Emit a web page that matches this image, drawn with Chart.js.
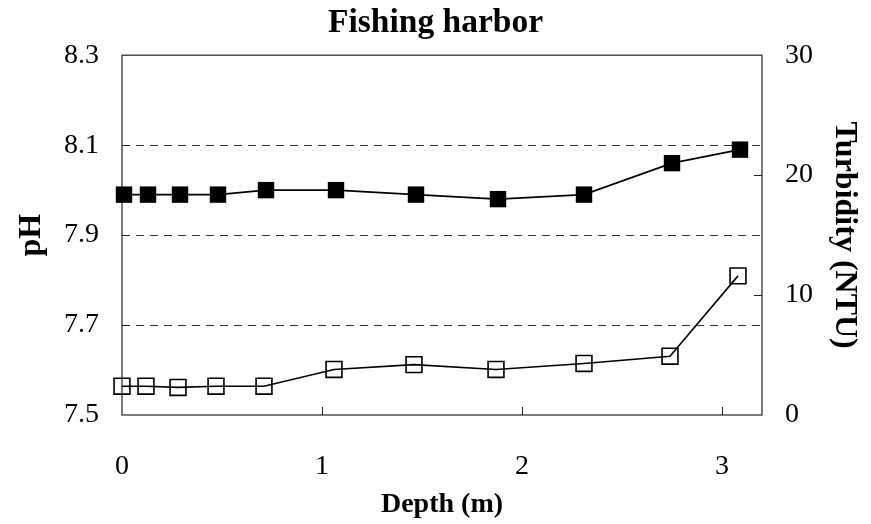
<!DOCTYPE html>
<html>
<head>
<meta charset="utf-8">
<script src="https://cdn.jsdelivr.net/npm/chart.js@4/dist/chart.umd.min.js"></script>
<style>
  html, body { margin: 0; padding: 0; background: #ffffff; }
  #wrap { width: 871px; height: 524px; }
</style>
</head>
<body>
<div id="wrap"><canvas id="c" width="871" height="524"></canvas></div>
<script>
// Depth profile at the fishing harbor: pH (filled squares, left axis)
// and turbidity (open squares, right axis).
const phDepth    = [0.01, 0.13, 0.29, 0.48, 0.72, 1.07, 1.47, 1.88, 2.31, 2.75, 3.09];
const phValues   = [7.99, 7.99, 7.99, 7.99, 8.00, 8.00, 7.99, 7.98, 7.99, 8.06, 8.09];
const turbDepth  = [0, 0.12, 0.28, 0.47, 0.71, 1.06, 1.46, 1.87, 2.31, 2.74, 3.08];
const turbValues = [2.4, 2.4, 2.3, 2.4, 2.4, 3.8, 4.2, 3.8, 4.3, 4.9, 11.6];

const depthTicks = [0, 1, 2, 3];
const phTicks    = [7.5, 7.7, 7.9, 8.1, 8.3];
const turbTicks  = [0, 10, 20, 30];

const SERIF = "'Liberation Serif', 'Times New Roman', serif";

// Box around the plot area plus short inward tick marks on each axis.
const frameAndTicks = {
  id: 'frameAndTicks',
  beforeDatasetsDraw(chart) {
    const { ctx, chartArea: a, scales } = chart;
    ctx.save();
    ctx.setLineDash([]);
    ctx.strokeStyle = '#333333';
    ctx.lineWidth = 1.3;
    ctx.strokeRect(a.left, a.top, a.right - a.left, a.bottom - a.top);

    ctx.lineWidth = 1;
    ctx.strokeStyle = '#222222';
    const len = 8;
    ctx.beginPath();
    scales.x.ticks.forEach(t => {
      const px = Math.round(scales.x.getPixelForValue(t.value)) + 0.5;
      if (px > a.left + 2 && px < a.right - 2) {
        ctx.moveTo(px, a.bottom);
        ctx.lineTo(px, a.bottom - len);
      }
    });
    scales.y.ticks.forEach(t => {
      const py = Math.round(scales.y.getPixelForValue(t.value)) + 0.5;
      if (py > a.top + 2 && py < a.bottom - 2) {
        ctx.moveTo(a.left, py);
        ctx.lineTo(a.left + len, py);
      }
    });
    scales.y1.ticks.forEach(t => {
      const py = Math.round(scales.y1.getPixelForValue(t.value)) + 0.5;
      if (py > a.top + 2 && py < a.bottom - 2) {
        ctx.moveTo(a.right, py);
        ctx.lineTo(a.right - len, py);
      }
    });
    ctx.stroke();
    ctx.restore();
  }
};

new Chart(document.getElementById('c'), {
  type: 'line',
  data: {
    datasets: [
      {
        label: 'pH',
        data: phDepth.map((d, i) => ({ x: d, y: phValues[i] })),
        yAxisID: 'y',
        borderColor: '#000000',
        borderWidth: 1.6,
        tension: 0,
        pointStyle: 'rect',
        pointRadius: 11.6,
        pointBackgroundColor: '#000000',
        pointBorderColor: '#000000',
        pointBorderWidth: 0,
        clip: false
      },
      {
        label: 'Turbidity',
        data: turbDepth.map((d, i) => ({ x: d, y: turbValues[i] })),
        yAxisID: 'y1',
        borderColor: '#000000',
        borderWidth: 1.6,
        tension: 0,
        pointStyle: 'rect',
        pointRadius: 11.2,
        pointBackgroundColor: 'rgba(0,0,0,0)',
        pointBorderColor: '#000000',
        pointBorderWidth: 1.6,
        clip: false
      }
    ]
  },
  options: {
    responsive: false,
    animation: false,
    devicePixelRatio: 1,
    events: [],
    layout: { padding: 0 },
    plugins: {
      legend: { display: false },
      tooltip: { enabled: false },
      title: {
        display: true,
        text: 'Fishing harbor',
        color: '#000000',
        font: { family: SERIF, size: 33.5, weight: 'bold', lineHeight: 1.2 },
        padding: { top: 3, bottom: 12 }
      }
    },
    scales: {
      x: {
        type: 'linear',
        position: 'bottom',
        min: 0,
        max: 3.2,
        afterBuildTicks(s) { s.ticks = depthTicks.map(v => ({ value: v })); },
        afterFit(s) { s.height = 109; },
        grid: { display: false },
        border: { display: false },
        ticks: {
          color: '#000000',
          padding: 27,
          maxRotation: 0,
          font: { family: SERIF, size: 28 },
          callback: v => String(v)
        },
        title: {
          display: true,
          text: 'Depth (m)',
          color: '#000000',
          font: { family: SERIF, size: 28, weight: 'bold', lineHeight: 1.2 },
          padding: { top: 0, bottom: 2 }
        }
      },
      y: {
        type: 'linear',
        position: 'left',
        min: 7.5,
        max: 8.3,
        afterBuildTicks(s) { s.ticks = phTicks.map(v => ({ value: v })); },
        afterFit(s) { s.width = 122; },
        grid: {
          drawTicks: false,
          lineWidth: 1,
          color: ctx => (ctx.tick && (ctx.tick.value <= 7.5 || ctx.tick.value >= 8.3)) ? 'rgba(0,0,0,0)' : '#333333'
        },
        border: { display: false, dash: [8, 6] },
        ticks: {
          color: '#000000',
          padding: 23,
          font: { family: SERIF, size: 28 },
          callback: v => Number(v).toFixed(1)
        },
        title: {
          display: true,
          text: 'pH',
          color: '#000000',
          font: { family: SERIF, size: 32, weight: 'bold', lineHeight: 1.2 },
          padding: { top: 13, bottom: 0 }
        }
      },
      y1: {
        type: 'linear',
        position: 'right',
        min: 0,
        max: 30,
        afterBuildTicks(s) { s.ticks = turbTicks.map(v => ({ value: v })); },
        afterFit(s) { s.width = 109; },
        grid: { drawOnChartArea: false, drawTicks: false },
        border: { display: false },
        ticks: {
          color: '#000000',
          padding: 23,
          font: { family: SERIF, size: 28 },
          callback: v => String(v)
        },
        title: {
          display: true,
          text: 'Turbidity (NTU)',
          color: '#000000',
          font: { family: SERIF, size: 32, weight: 'bold', lineHeight: 1.2 },
          padding: { top: 8, bottom: 0 }
        }
      }
    }
  },
  plugins: [frameAndTicks]
});
</script>
</body>
</html>
